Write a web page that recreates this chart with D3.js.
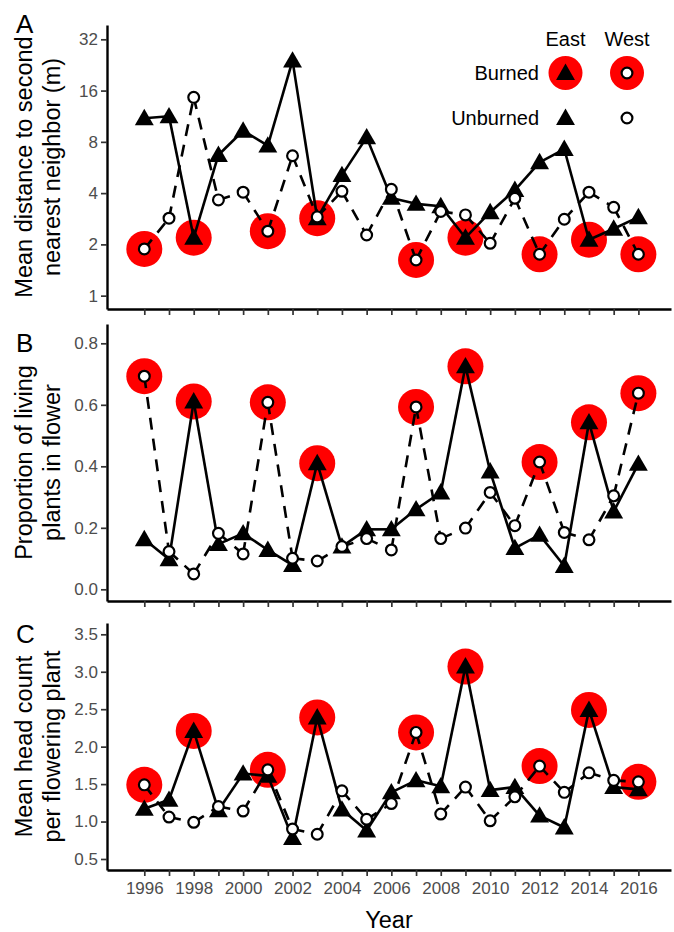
<!DOCTYPE html>
<html>
<head>
<meta charset="utf-8">
<script src="https://cdn.jsdelivr.net/npm/d3@7"></script>
<style>
  html, body { margin: 0; padding: 0; background: #fff; }
  svg { display: block; }
  text { font-family: "Liberation Sans", Arial, sans-serif; }
</style>
</head>
<body>
<svg id="chart" width="674" height="932"></svg>
<script>
// ---------------- data ----------------
const years = [1996,1997,1998,1999,2000,2001,2002,2003,2004,2005,2006,2007,2008,2009,2010,2011,2012,2013,2014,2015,2016];
const eastBurnedYears = [1998, 2003, 2009, 2014];
const westBurnedYears = [1996, 2001, 2007, 2012, 2016];

// Panel A: mean distance to second nearest neighbor (m)
const distEast = [11.0, 11.3, 2.19, 6.7, 9.3, 7.6, 24.0, 2.85, 5.1, 8.5, 3.75, 3.46, 3.35, 2.19, 3.09, 4.17, 6.07, 7.26, 2.13, 2.47, 2.89];
const distWest = [1.88, 2.85, 14.6, 3.65, 4.05, 2.39, 6.63, 2.9, 4.1, 2.27, 4.21, 1.62, 3.12, 2.98, 2.03, 3.73, 1.75, 2.81, 4.05, 3.3, 1.75];

// Panel B: proportion of living plants in flower
const flowerEast = [0.163, 0.098, 0.611, 0.147, 0.182, 0.128, 0.079, 0.41, 0.139, 0.195, 0.195, 0.26, 0.315, 0.725, 0.383, 0.134, 0.177, 0.076, 0.543, 0.253, 0.408];
const flowerWest = [0.693, 0.123, 0.05, 0.182, 0.115, 0.608, 0.101, 0.092, 0.139, 0.165, 0.128, 0.593, 0.165, 0.199, 0.315, 0.207, 0.414, 0.185, 0.161, 0.304, 0.638];

// Panel C: mean head count per flowering plant
const headEast = [1.17, 1.29, 2.21, 1.15, 1.64, 1.61, 0.78, 2.39, 1.16, 0.88, 1.39, 1.55, 1.47, 3.07, 1.42, 1.46, 1.08, 0.92, 2.49, 1.46, 1.43];
const headWest = [1.49, 1.06, 0.99, 1.2, 1.14, 1.69, 0.9, 0.83, 1.41, 1.03, 1.24, 2.19, 1.1, 1.46, 1.01, 1.33, 1.74, 1.39, 1.65, 1.55, 1.53];

const ticksA = [1, 2, 4, 8, 16, 32];
const ticksB = [0.0, 0.2, 0.4, 0.6, 0.8];
const ticksC = [0.5, 1.0, 1.5, 2.0, 2.5, 3.0, 3.5];

const titlesA = ["Mean distance to second", "nearest neighbor (m)"];
const titlesB = ["Proportion of living", "plants in flower"];
const titlesC = ["Mean head count", "per flowering plant"];
const xTitle = "Year";
const legendCols = ["East", "West"];
const legendRows = ["Burned", "Unburned"];

// ---------------- layout ----------------
const svg = d3.select("#chart");
const RED = "#FF0000";
const FONT_TICK = 17;
const FONT_TITLE = 23.5;
const LINE_W = 2.6;
const PT_R = 5.4;

const x = d3.scaleLinear().domain([1994.49, 2017.32]).range([107, 671]);

const panels = [
  { label: "A", top: 25, bottom: 309,
    y: d3.scaleLog().base(2).domain([0.835, 38.83]).range([309, 25]),
    ticks: ticksA, fmt: d3.format("d"), east: distEast, west: distWest, titles: titlesA,
    labelY: 33, xLabels: false },
  { label: "B", top: 324, bottom: 601,
    y: d3.scaleLinear().domain([-0.038, 0.8628]).range([601, 324]),
    ticks: ticksB, fmt: d3.format(".1f"), east: flowerEast, west: flowerWest, titles: titlesB,
    labelY: 352, xLabels: false },
  { label: "C", top: 623, bottom: 870,
    y: d3.scaleLinear().domain([0.353, 3.651]).range([870, 623]),
    ticks: ticksC, fmt: d3.format(".1f"), east: headEast, west: headWest, titles: titlesC,
    labelY: 643, xLabels: true }
];

function styleAxis(g) {
  g.select(".domain").attr("stroke", "#000").attr("stroke-width", 2.4);
  g.selectAll(".tick line").attr("stroke", "#333").attr("stroke-width", 1.7);
  g.selectAll(".tick text").attr("fill", "#4D4D4D").style("font-size", FONT_TICK + "px")
    .style("font-family", "'Liberation Sans', Arial, sans-serif");
}

const triangle = d3.symbol().type(d3.symbolTriangle).size(155);

panels.forEach(p => {
  const g = svg.append("g");
  const y = p.y;
  const eastPts = years.map((yr, i) => ({ year: yr, v: p.east[i] }));
  const westPts = years.map((yr, i) => ({ year: yr, v: p.west[i] }));

  // axes
  const yAxis = d3.axisLeft(y).tickValues(p.ticks).tickFormat(p.fmt)
    .tickSize(6).tickPadding(3).tickSizeOuter(0);
  g.append("g").attr("transform", `translate(${x.range()[0]},0)`).call(yAxis).call(styleAxis);

  const xAxis = d3.axisBottom(x).tickValues(years)
    .tickFormat(d => (p.xLabels && d % 2 === 0) ? String(d) : "")
    .tickSize(6).tickPadding(6).tickSizeOuter(0);
  g.append("g").attr("transform", `translate(0,${y.range()[0]})`).call(xAxis).call(styleAxis);

  // burned highlight circles
  const burned = eastPts.filter(d => eastBurnedYears.includes(d.year))
    .concat(westPts.filter(d => westBurnedYears.includes(d.year)));
  g.append("g").selectAll("circle").data(burned).join("circle")
    .attr("cx", d => x(d.year)).attr("cy", d => y(d.v)).attr("r", 18).attr("fill", RED);

  // lines (segment by segment)
  g.append("g").selectAll("line").data(d3.pairs(eastPts)).join("line")
    .attr("x1", d => x(d[0].year)).attr("y1", d => y(d[0].v))
    .attr("x2", d => x(d[1].year)).attr("y2", d => y(d[1].v))
    .attr("stroke", "#000").attr("stroke-width", LINE_W);
  g.append("g").selectAll("line").data(d3.pairs(westPts)).join("line")
    .attr("x1", d => x(d[0].year)).attr("y1", d => y(d[0].v))
    .attr("x2", d => x(d[1].year)).attr("y2", d => y(d[1].v))
    .attr("stroke", "#000").attr("stroke-width", LINE_W).attr("stroke-dasharray", "12,9");

  // east triangles
  g.append("g").selectAll("path").data(eastPts).join("path")
    .attr("d", triangle).attr("transform", d => `translate(${x(d.year)},${y(d.v) + 1.5})`)
    .attr("fill", "#000");
  // west open circles
  g.append("g").selectAll("circle").data(westPts).join("circle")
    .attr("cx", d => x(d.year)).attr("cy", d => y(d.v)).attr("r", PT_R)
    .attr("fill", "#fff").attr("stroke", "#000").attr("stroke-width", 2.2);

  // y-axis title (two lines)
  const cy = (p.top + p.bottom) / 2;
  p.titles.forEach((t, i) => {
    svg.append("text").attr("transform", `translate(${32 + i * 28},${cy}) rotate(-90)`)
      .attr("text-anchor", "middle").style("font-size", FONT_TITLE + "px").attr("fill", "#000")
      .text(t);
  });

  // panel letter
  svg.append("text").attr("x", 16).attr("y", p.labelY).style("font-size", "26px")
    .attr("fill", "#000").text(p.label);
});

// x title
svg.append("text").attr("x", (x.range()[0] + x.range()[1]) / 2).attr("y", 928)
  .attr("text-anchor", "middle").style("font-size", FONT_TITLE + "px").attr("fill", "#000").text(xTitle);

// ---------------- legend ----------------
const legX = [565.5, 627];
const legY = [73, 118];
const lg = svg.append("g");
legendCols.forEach((c, i) => {
  lg.append("text").attr("x", legX[i]).attr("y", 46).attr("text-anchor", "middle")
    .style("font-size", "20px").attr("fill", "#000").text(c);
});
legendRows.forEach((r, j) => {
  lg.append("text").attr("x", 539).attr("y", legY[j] + 7).attr("text-anchor", "end")
    .style("font-size", "20px").attr("fill", "#000").text(r);
});
// burned row
legX.forEach(cx => lg.append("circle").attr("cx", cx).attr("cy", legY[0]).attr("r", 17).attr("fill", RED));
[0, 1].forEach(j => {
  lg.append("path").attr("d", triangle).attr("transform", `translate(${legX[0]},${legY[j] + 1.5})`).attr("fill", "#000");
  lg.append("circle").attr("cx", legX[1]).attr("cy", legY[j]).attr("r", PT_R)
    .attr("fill", "#fff").attr("stroke", "#000").attr("stroke-width", 2.2);
});
</script>
</body>
</html>
